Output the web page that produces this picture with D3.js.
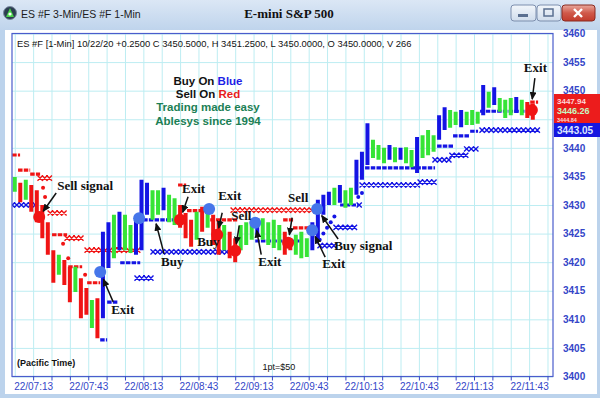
<!DOCTYPE html>
<html>
<head>
<meta charset="utf-8">
<script src="https://cdn.jsdelivr.net/npm/d3@7"></script>
<style>
  html, body { margin: 0; padding: 0; background: #bcd3ec; }
  svg { display: block; }
</style>
</head>
<body>
<div id="chart"></div>
<script>
// ===============================
// Data
// ===============================

// minutes after 22/07:13, one bar per 3 minutes
const barTimes = [-10, -7, -4, -1, 2, 5, 8, 11, 14, 17, 20, 23, 26, 29, 32, 35, 38, 41, 44, 47,
    50, 53, 56, 59, 62, 65, 68, 71, 74, 77, 80, 83, 86, 89, 92, 95, 98, 101, 104, 107,
    110, 113, 116, 119, 122, 125, 128, 131, 134, 137, 140, 143, 146, 149, 152, 155, 158, 161, 164, 167,
    170, 173, 176, 179, 182, 185, 188, 191, 194, 197, 200, 203, 206, 209, 212, 215, 218, 221, 224, 227,
    230, 233, 236, 239, 242, 245, 248, 251, 254, 257, 260, 263, 266, 269, 272];

const barLows = [3432.3, 3430.5, 3430.9, 3428.8, 3427.0, 3424.2, 3421.3, 3416.4, 3417.8, 3416.0,
    3413.0, 3414.8, 3410.2, 3410.8, 3408.5, 3406.7, 3410.2, 3419.0, 3420.7, 3422.1,
    3422.1, 3421.6, 3421.3, 3422.1, 3428.3, 3427.4, 3428.3, 3429.1, 3427.0, 3426.5,
    3426.0, 3424.2, 3422.7, 3423.9, 3425.3, 3426.0, 3423.0, 3421.3, 3422.1, 3420.7,
    3420.0, 3422.1, 3423.0, 3423.9, 3424.8, 3423.9, 3423.0, 3422.5, 3422.1, 3421.3,
    3422.1, 3421.3, 3420.7, 3420.9, 3422.1, 3423.9, 3428.3, 3430.0, 3430.0, 3430.4,
    3429.5, 3430.0, 3431.8, 3434.4, 3437.0, 3438.2, 3437.9, 3437.3, 3437.9, 3437.5,
    3437.9, 3437.3, 3436.6, 3435.6, 3438.2, 3438.7, 3439.3, 3441.4, 3443.1, 3443.5,
    3444.0, 3443.6, 3444.0, 3444.0, 3444.2, 3445.7, 3447.0, 3447.5, 3446.3, 3445.2,
    3445.7, 3446.1, 3445.7, 3445.2, 3444.9];

const barHighs = [3434.9, 3433.9, 3434.4, 3433.5, 3432.6, 3430.0, 3427.0, 3422.1, 3421.3, 3420.4,
    3419.2, 3419.2, 3417.2, 3415.5, 3413.4, 3413.7, 3425.3, 3427.0, 3428.3, 3428.8,
    3428.3, 3426.5, 3427.4, 3434.4, 3433.9, 3432.6, 3432.6, 3433.0, 3431.8, 3431.2,
    3430.0, 3428.6, 3427.4, 3428.8, 3429.7, 3430.0, 3428.3, 3427.0, 3426.5, 3425.3,
    3424.2, 3426.5, 3427.0, 3426.5, 3427.7, 3427.7, 3427.0, 3427.4, 3426.5, 3425.3,
    3424.2, 3424.8, 3425.3, 3424.2, 3427.0, 3430.9, 3431.8, 3432.3, 3433.0, 3433.5,
    3432.6, 3433.0, 3437.9, 3439.3, 3444.3, 3441.4, 3440.5, 3440.0, 3440.5, 3440.1,
    3440.0, 3440.1, 3439.6, 3441.9, 3442.2, 3443.1, 3442.2, 3445.7, 3447.1, 3446.6,
    3446.3, 3446.6, 3446.3, 3446.6, 3446.3, 3451.0, 3449.8, 3450.6, 3448.7, 3448.4,
    3448.7, 3448.9, 3448.4, 3448.0, 3447.7];

// g = up (green), r = sell (red), b = buy (blue)
const barKinds = ("grgrrrrrgr" + "rgrrgrbbgb" + "ggbbbggbgg" + "rrrgrgrrgr" + "rgggbggggr" +
    "rgggbbbbgb" + "ggbbbgggbg" + "bggbgggbbg" + "gbgggbgbgg" + "gbgrr").split("");

// stop levels: [from minute, to minute, price]
const redStopLines = [[-11.4, -7.1, 3438.75], [-8.2, -1.6, 3436.1], [-1.6, 3.8, 3435.4],
    [10.3, 18.5, 3424.8], [19.1, 26.7, 3419.2], [29.4, 36.5, 3416.4], [78.9, 83.3, 3433.5],
    [83.8, 94.7, 3429.0], [96.4, 111.1, 3427.4], [136.1, 141.5, 3427.4], [141.5, 149.7, 3426.0],
    [270.6, 274.9, 3448.0]];
const redStopCrosses = [[3.8, 10.9, 3434.7], [9.3, 18.5, 3428.6], [18.5, 26.7, 3424.2],
    [29.4, 58.3, 3422.1], [108.9, 151.9, 3429.1]];
const redStopDots = [[5.4, 3433.0], [6.5, 3431.4], [16.3, 3423.2], [19.1, 3420.7], [28.3, 3417.8]];

const blueStopLines = [[36.5, 40.3, 3406.4], [40.3, 46.3, 3413.0], [47.4, 58.3, 3419.9],
    [59.9, 80.0, 3427.4], [120.9, 145.3, 3423.7], [167.1, 177.0, 3430.0], [180.7, 218.8, 3436.5],
    [219.9, 228.6, 3440.3], [228.6, 237.9, 3442.1], [237.9, 242.2, 3442.9], [243.3, 268.9, 3446.4]];
const blueStopCrosses = [[-11.4, 2.2, 3430.0], [56.6, 66.4, 3417.2], [65.3, 108.9, 3421.8],
    [156.2, 164.9, 3422.9], [164.9, 176.4, 3426.1], [177.5, 179.0, 3430.0], [179.1, 210.7, 3433.5],
    [210.7, 219.9, 3434.0], [218.8, 228.0, 3437.9], [228.0, 236.0, 3438.7], [236.0, 243.3, 3439.8],
    [244.4, 274.4, 3443.1]];
const blueStopDots = [[156, 3423.9], [158, 3425.0], [160, 3426.0], [162, 3427.0], [164, 3428.0],
    [177, 3431.4], [179, 3432.1]];

// signal circles: [minute, price]
const buySignals = [[36.5, 3418.3], [57.7, 3427.7], [95.8, 3429.3], [120.9, 3426.9],
    [151.9, 3425.6], [154.6, 3429.3]];
const sellSignals = [[3.3, 3427.9], [80.0, 3427.4], [100.2, 3424.8], [110.0, 3422.0],
    [138.8, 3423.4], [271.5, 3446.6]];

// annotations: label and the point the arrow goes to
const noteLabels = ["Sell signal", "Exit", "Buy", "Exit", "Exit", "Buy", "Sell", "Exit", "Sell",
    "Buy signal", "Exit", "Exit"];
const noteTargets = [[3.3, 3427.9], [36.5, 3418.3], [66.4, 3427.4], [80.0, 3427.4],
    [100.2, 3424.8], [100.2, 3424.8], [110.0, 3422.0], [120.9, 3426.9], [138.8, 3423.4],
    [154.6, 3429.3], [151.9, 3425.6], [271.5, 3448.0]];

const xTickMinutes = [0, 30, 60, 90, 120, 150, 180, 210, 240, 270];
const xTickLabels = ["22/07:13", "22/07:43", "22/08:13", "22/08:43", "22/09:13",
    "22/09:43", "22/10:13", "22/10:43", "22/11:13", "22/11:43"];
const yTickValues = [3400, 3405, 3410, 3415, 3420, 3425, 3430, 3435, 3440, 3445, 3450, 3455, 3460];
// 3445 sits behind the price boxes, so it gets no label
const yHiddenLabels = [3445];

const lastPrices = ["3447.94", "3446.26", "3444.84"];
const stopPrice = "3443.05";


// ===============================
// Layout
// ===============================

const width = 600;
const height = 398;
const plot = { left: 12, right: 553, top: 33.5, bottom: 376.5 };

const colors = {
    g: "#36e436",
    r: "#f01414",
    b: "#1414e4",
    buyDot: "#4676ea",
    grid: "#bdedf2",
    frame: "#4a5ccc",
    axis: "#3446c8"
};

// [text dx, text dy, arrow start dx, arrow start dy, gap at target] relative to target
const noteLayout = [[18, -27, 17, -24, 7], [11, 42, 13, 30, 8], [6, 46, 9, 34, 4],
    [2, -27, 8, -23, 8], [1, -35, 5, -22, 7], [-20, 11, null, null, 0], [-4, -31, 4, -25, 7],
    [3, 43, 6, 32, 8], [0, -41, 4, -25, 8], [17, 41, 21, 30, 8], [10, 38, 13, 27, 7],
    [-8, -30, 3, -24, 3]];

const svg = d3.select("#chart")
    .append("svg")
    .attr("width", width)
    .attr("height", height)
    .attr("viewBox", `0 0 ${width} ${height}`);

const defs = svg.append("defs");

const titleGrad = defs.append("linearGradient")
    .attr("id", "title-grad")
    .attr("x1", "0%").attr("y1", "0%")
    .attr("x2", "0%").attr("y2", "100%");
titleGrad.append("stop").attr("offset", "0%").attr("stop-color", "#dbe7f5");
titleGrad.append("stop").attr("offset", "100%").attr("stop-color", "#bfd4ec");

const closeGrad = defs.append("linearGradient")
    .attr("id", "close-grad")
    .attr("x1", "0%").attr("y1", "0%")
    .attr("x2", "0%").attr("y2", "100%");
closeGrad.append("stop").attr("offset", "0%").attr("stop-color", "#e9a99d");
closeGrad.append("stop").attr("offset", "50%").attr("stop-color", "#d0594a");
closeGrad.append("stop").attr("offset", "100%").attr("stop-color", "#c23b2c");

const btnGrad = defs.append("linearGradient")
    .attr("id", "btn-grad")
    .attr("x1", "0%").attr("y1", "0%")
    .attr("x2", "0%").attr("y2", "100%");
btnGrad.append("stop").attr("offset", "0%").attr("stop-color", "#f2f6fb");
btnGrad.append("stop").attr("offset", "100%").attr("stop-color", "#cfdcec");

defs.append("clipPath")
    .attr("id", "plot-clip")
    .append("rect")
    .attr("x", plot.left)
    .attr("y", plot.top)
    .attr("width", plot.right - plot.left)
    .attr("height", plot.bottom - plot.top);

defs.append("marker")
    .attr("id", "arrow")
    .attr("markerUnits", "userSpaceOnUse")
    .attr("markerWidth", 8)
    .attr("markerHeight", 7)
    .attr("refX", 7)
    .attr("refY", 3.5)
    .attr("orient", "auto")
    .append("path")
    .attr("d", "M0,0 L8,3.5 L0,7 Z")
    .attr("fill", "#111");


// =========================
// Window chrome
// =========================

svg.append("rect")
    .attr("width", width)
    .attr("height", height)
    .attr("fill", "#bcd3ec");

svg.append("rect")
    .attr("width", width)
    .attr("height", 30)
    .attr("fill", "url(#title-grad)");

svg.append("rect")
    .attr("x", 5)
    .attr("y", 30)
    .attr("width", 592)
    .attr("height", 364)
    .attr("fill", "#ffffff");

// app icon
svg.append("circle")
    .attr("cx", 10).attr("cy", 13).attr("r", 6.5)
    .attr("fill", "#2c3e50").attr("stroke", "#7a8aa0");
svg.append("path")
    .attr("d", "M10,8 L14,17 L6,17 Z")
    .attr("fill", "#4bd34b");
svg.append("circle")
    .attr("cx", 10).attr("cy", 14).attr("r", 1.6)
    .attr("fill", "#ffffff");

svg.append("text")
    .attr("x", 21)
    .attr("y", 18)
    .style("font-family", "'Liberation Sans', Arial, sans-serif")
    .style("font-size", "10.5px")
    .attr("fill", "#1c1c1c")
    .text("ES #F 3-Min/ES #F 1-Min");

svg.append("text")
    .attr("x", 289)
    .attr("y", 18)
    .attr("text-anchor", "middle")
    .style("font-family", "'Liberation Serif', 'Times New Roman', serif")
    .style("font-size", "13px")
    .style("font-weight", "bold")
    .attr("fill", "#111")
    .text("E-mini S&P 500");

// min / max / close buttons
const buttons = [[511, 25, "min"], [537, 24, "max"], [562, 33, "close"]];
buttons.forEach(([bx, bw, kind]) => {
    svg.append("rect")
        .attr("x", bx).attr("y", 5)
        .attr("width", bw).attr("height", 16)
        .attr("rx", 3)
        .attr("fill", kind === "close" ? "url(#close-grad)" : "url(#btn-grad)")
        .attr("stroke", kind === "close" ? "#8a2a20" : "#7d8fae");
});
svg.append("rect").attr("x", 518).attr("y", 14).attr("width", 10).attr("height", 3)
    .attr("fill", "#5a6f90");
svg.append("rect").attr("x", 544).attr("y", 9).attr("width", 9).attr("height", 7)
    .attr("fill", "none").attr("stroke", "#5a6f90").attr("stroke-width", 1.5);
svg.append("path")
    .attr("d", "M574,9 L582,17 M582,9 L574,17")
    .attr("stroke", "#ffffff")
    .attr("stroke-width", 2.4);


// =========================
// Scales
// =========================

const x = d3.scaleLinear()
    .domain([-11.5, 283])
    .range([plot.left, plot.right]);

const y = d3.scaleLinear()
    .domain([3400, 3460])
    .range([plot.bottom, plot.top]);


// =========================
// Grid
// =========================

const gridMinutes = d3.range(-10, 283, 10);

svg.append("g")
    .attr("transform", `translate(0,${plot.bottom})`)
    .call(d3.axisBottom(x)
        .tickValues(gridMinutes)
        .tickSize(-(plot.bottom - plot.top))
        .tickFormat(""))
    .call(g => g.select(".domain").remove())
    .selectAll("line")
    .attr("stroke", colors.grid);

svg.append("g")
    .attr("transform", `translate(${plot.left},0)`)
    .call(d3.axisLeft(y)
        .tickValues(yTickValues)
        .tickSize(-(plot.right - plot.left))
        .tickFormat(""))
    .call(g => g.select(".domain").remove())
    .selectAll("line")
    .attr("stroke", colors.grid);


// =========================
// Texts inside the plot
// =========================

svg.append("text")
    .attr("x", 17)
    .attr("y", 47)
    .style("font-family", "'Liberation Sans', Arial, sans-serif")
    .style("font-size", "9.4px")
    .attr("fill", "#111")
    .text("ES #F [1-Min] 10/22/20  +0.2500 C 3450.5000, H 3451.2500, L 3450.0000, O 3450.0000, V 266");

const legend = svg.append("g")
    .attr("text-anchor", "middle")
    .style("font-family", "'Liberation Sans', Arial, sans-serif")
    .style("font-size", "11.5px")
    .style("font-weight", "bold");

const l1 = legend.append("text").attr("x", 208).attr("y", 85).attr("fill", "#111");
l1.append("tspan").text("Buy On ");
l1.append("tspan").attr("fill", "#1d1de6").text("Blue");

const l2 = legend.append("text").attr("x", 208).attr("y", 98).attr("fill", "#111");
l2.append("tspan").text("Sell On ");
l2.append("tspan").attr("fill", "#e81c1c").text("Red");

legend.append("text").attr("x", 208).attr("y", 111).attr("fill", "#1b7f55").text("Trading made easy");
legend.append("text").attr("x", 208).attr("y", 125).attr("fill", "#1b7f55").text("Ablesys since 1994");

svg.append("text")
    .attr("x", 17)
    .attr("y", 366)
    .style("font-family", "'Liberation Sans', Arial, sans-serif")
    .style("font-size", "9px")
    .style("font-weight", "bold")
    .attr("fill", "#111")
    .text("(Pacific Time)");

svg.append("text")
    .attr("x", 279)
    .attr("y", 370)
    .attr("text-anchor", "middle")
    .style("font-family", "'Liberation Sans', Arial, sans-serif")
    .style("font-size", "9px")
    .attr("fill", "#111")
    .text("1pt=$50");


// =========================
// Stops, bars and signals
// =========================

const marks = svg.append("g").attr("clip-path", "url(#plot-clip)");

const crossPath = ([t0, t1, p]) => {
    const yy = y(p);
    let d = "";
    for (let cx = x(t0); cx <= x(t1) + 0.1; cx += 4.6) {
        d += `M${cx - 2.6},${yy - 2.6}L${cx + 2.6},${yy + 2.6}M${cx - 2.6},${yy + 2.6}L${cx + 2.6},${yy - 2.6}`;
    }
    return d;
};

const drawStops = (lines, crosses, dots, color) => {
    marks.selectAll(null)
        .data(lines)
        .join("line")
        .attr("x1", d => x(d[0]))
        .attr("x2", d => x(d[1]))
        .attr("y1", d => y(d[2]))
        .attr("y2", d => y(d[2]))
        .attr("stroke", color)
        .attr("stroke-width", 3.2)
        .attr("stroke-dasharray", "4.5,1.2");

    marks.selectAll(null)
        .data(crosses)
        .join("path")
        .attr("d", crossPath)
        .attr("fill", "none")
        .attr("stroke", color)
        .attr("stroke-width", 1.4);

    marks.selectAll(null)
        .data(dots)
        .join("circle")
        .attr("cx", d => x(d[0]))
        .attr("cy", d => y(d[1]))
        .attr("r", 2)
        .attr("fill", color);
};

drawStops(blueStopLines, blueStopCrosses, blueStopDots, colors.b);
drawStops(redStopLines, redStopCrosses, redStopDots, colors.r);

const bars = barTimes.map((t, i) => ({
    t: t,
    low: barLows[i],
    high: barHighs[i],
    kind: barKinds[i]
}));

marks.selectAll(null)
    .data(bars)
    .join("line")
    .attr("x1", d => x(d.t))
    .attr("x2", d => x(d.t))
    .attr("y1", d => y(d.low))
    .attr("y2", d => y(d.high))
    .attr("stroke", d => colors[d.kind])
    .attr("stroke-width", 4);

marks.selectAll(null)
    .data(buySignals)
    .join("circle")
    .attr("cx", d => x(d[0]))
    .attr("cy", d => y(d[1]))
    .attr("r", 6)
    .attr("fill", colors.buyDot);

marks.selectAll(null)
    .data(sellSignals)
    .join("circle")
    .attr("cx", d => x(d[0]))
    .attr("cy", d => y(d[1]))
    .attr("r", 6)
    .attr("fill", colors.r);


// =========================
// Annotations
// =========================

const notes = noteLabels.map((label, i) => ({
    label: label,
    tx: x(noteTargets[i][0]),
    ty: y(noteTargets[i][1]),
    layout: noteLayout[i]
}));

const noteG = svg.append("g");

notes.forEach(n => {
    const [dx, dy, ax, ay, gap] = n.layout;
    if (ax !== null) {
        const sx = n.tx + ax;
        const sy = n.ty + ay;
        const len = Math.hypot(n.tx - sx, n.ty - sy);
        const ex = n.tx - (n.tx - sx) * gap / len;
        const ey = n.ty - (n.ty - sy) * gap / len;
        noteG.append("line")
            .attr("x1", sx).attr("y1", sy)
            .attr("x2", ex).attr("y2", ey)
            .attr("stroke", "#111")
            .attr("stroke-width", 1.5)
            .attr("marker-end", "url(#arrow)");
    }
    noteG.append("text")
        .attr("x", n.tx + dx)
        .attr("y", n.ty + dy)
        .style("font-family", "'Liberation Serif', 'Times New Roman', serif")
        .style("font-size", "13px")
        .style("font-weight", "bold")
        .attr("fill", "#111")
        .text(n.label);
});


// =========================
// Frame and axes
// =========================

svg.append("rect")
    .attr("x", plot.left)
    .attr("y", plot.top)
    .attr("width", plot.right - plot.left)
    .attr("height", plot.bottom - plot.top)
    .attr("fill", "none")
    .attr("stroke", colors.frame)
    .attr("stroke-width", 1.2);

// small ticks every 10 minutes
svg.append("g")
    .attr("transform", `translate(0,${plot.bottom})`)
    .call(d3.axisBottom(x).tickValues(gridMinutes.filter(m => m >= 0)).tickSize(4).tickFormat(""))
    .call(g => g.select(".domain").remove())
    .selectAll("line")
    .attr("stroke", colors.axis);

const xAxis = svg.append("g")
    .attr("transform", `translate(0,${plot.bottom})`)
    .call(d3.axisBottom(x)
        .tickValues(xTickMinutes)
        .tickSize(0)
        .tickPadding(6)
        .tickFormat((d, i) => xTickLabels[i]));
xAxis.select(".domain").remove();
xAxis.selectAll("text")
    .style("font-family", "'Liberation Sans', Arial, sans-serif")
    .style("font-size", "10px")
    .attr("fill", colors.axis);

const yAxis = svg.append("g")
    .attr("transform", `translate(${plot.right},0)`)
    .call(d3.axisRight(y)
        .tickValues(yTickValues.filter(v => !yHiddenLabels.includes(v)))
        .tickSize(0)
        .tickPadding(10)
        .tickFormat(d3.format("d")));
yAxis.select(".domain").remove();
yAxis.selectAll("text")
    .style("font-family", "'Liberation Sans', Arial, sans-serif")
    .style("font-size", "10px")
    .style("font-weight", "bold")
    .attr("fill", colors.axis);


// =========================
// Price boxes on the right
// =========================

const boxFont = "'Liberation Sans', Arial, sans-serif";

svg.append("rect")
    .attr("x", 554).attr("y", 94)
    .attr("width", 46).attr("height", 29)
    .attr("fill", "#ec1c1c");

// last prices, stacked inside the red box
[["#ffd6d6", 104, "8px"], ["#c6f7c2", 114, "9px"], ["#ffd6d6", 122.2, "5.5px"]].forEach(([c, yy, fs], i) => {
    svg.append("text")
        .attr("x", 557).attr("y", yy)
        .style("font-family", boxFont)
        .style("font-size", fs)
        .style("font-weight", "bold")
        .attr("fill", c)
        .text(lastPrices[i]);
});

svg.append("rect")
    .attr("x", 554).attr("y", 123)
    .attr("width", 46).attr("height", 14)
    .attr("fill", "#1616e0");

svg.append("text")
    .attr("x", 557).attr("y", 134)
    .style("font-family", boxFont)
    .style("font-size", "10px")
    .style("font-weight", "bold")
    .attr("fill", "#dbe6ff")
    .text(stopPrice);
</script>
</body>
</html>
